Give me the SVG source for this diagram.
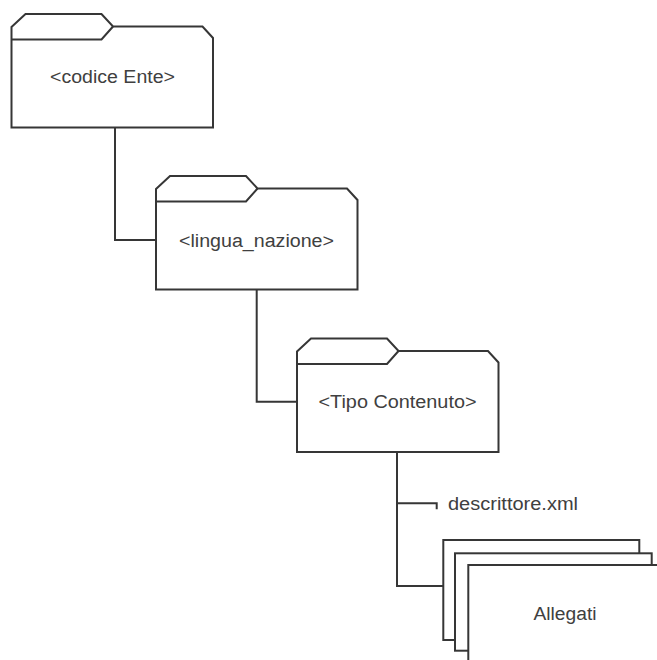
<svg xmlns="http://www.w3.org/2000/svg" width="657" height="660" viewBox="0 0 657 660">
  <defs>
    <style>
      .ln { fill: none; stroke: #363636; stroke-width: 2; stroke-linejoin: miter; }
      .box { fill: #ffffff; stroke: #363636; stroke-width: 2; }
      .lbl { font-family: "Liberation Sans", Arial, sans-serif; font-size: 18px; fill: #404040; }
    </style>
    <!-- folder outline: tab + body, origin at tab top-left -->
    <g id="folder">
      <path class="box" d="M0,13 L14,0 L90,0 L101.5,12.5 L191,12.5 L201.5,24 V113.5 H0 Z"/>
      <path class="ln" d="M0,25.5 H90 L101.5,12.5"/>
    </g>
  </defs>
  <rect width="657" height="660" fill="#ffffff"/>

  <!-- tree connectors -->
  <g id="connectors">
    <path class="ln" d="M115,127.5 V240 H156"/>
    <path class="ln" d="M256.7,289.5 V401.7 H297"/>
    <path class="ln" d="M397,452 V586 H443.3"/>
    <path class="ln" d="M397,503.3 H436.7 V509.3"/>
  </g>

  <g id="codice-ente">
    <use href="#folder" x="11.5" y="14"/>
    <text class="lbl" x="112.5" y="83" text-anchor="middle" textLength="125" lengthAdjust="spacingAndGlyphs">&lt;codice Ente&gt;</text>
  </g>

  <g id="lingua-nazione">
    <use href="#folder" x="156" y="176"/>
    <text class="lbl" x="256.5" y="246.5" text-anchor="middle" textLength="155" lengthAdjust="spacingAndGlyphs">&lt;lingua_nazione&gt;</text>
  </g>

  <g id="tipo-contenuto">
    <use href="#folder" x="297" y="338.5"/>
    <text class="lbl" x="397.5" y="408" text-anchor="middle" textLength="158" lengthAdjust="spacingAndGlyphs">&lt;Tipo Contenuto&gt;</text>
  </g>

  <g id="descrittore">
    <text class="lbl" x="448" y="510" textLength="130" lengthAdjust="spacingAndGlyphs">descrittore.xml</text>
  </g>

  <g id="allegati">
    <rect class="box" x="443.3" y="540" width="196" height="100"/>
    <rect class="box" x="455" y="553.3" width="196.7" height="97.4"/>
    <rect class="box" x="468.3" y="565" width="200" height="100"/>
    <text class="lbl" x="565" y="619.5" text-anchor="middle" textLength="63" lengthAdjust="spacingAndGlyphs">Allegati</text>
  </g>
</svg>
